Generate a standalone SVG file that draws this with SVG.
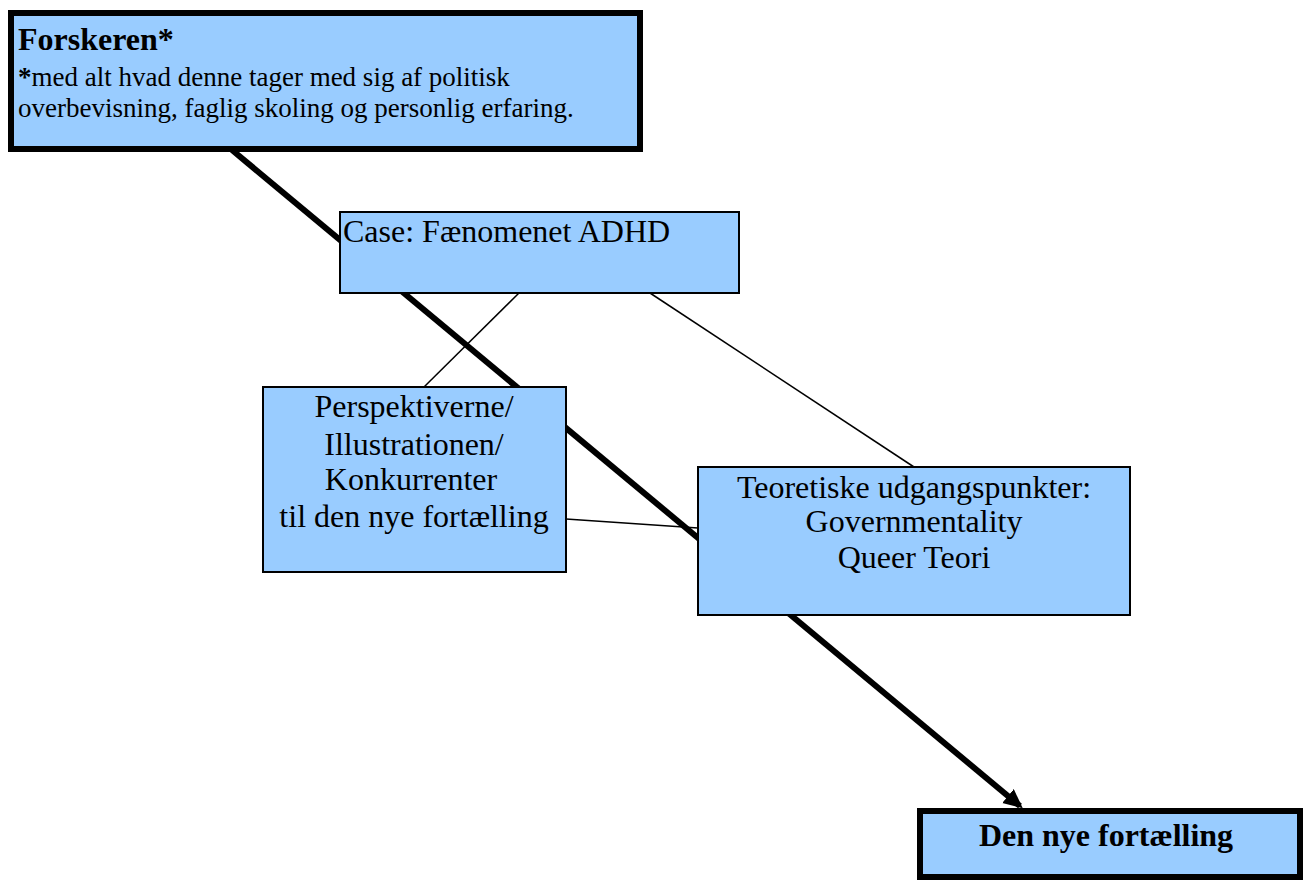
<svg xmlns="http://www.w3.org/2000/svg" width="1303" height="880" viewBox="0 0 1303 880">
<style>
.box{fill:#99ccff;stroke:#000}
.thin{stroke-width:2}
.thick{stroke-width:6}
text{font-family:"Liberation Serif","Times New Roman",serif;fill:#000}
.t{font-size:32px}
.c{text-anchor:middle}
.b{font-weight:bold}
.conn{stroke:#000;fill:none}
</style>
<defs>
<marker id="arr" markerWidth="4" markerHeight="4" refX="2.6" refY="1.5" orient="auto" markerUnits="strokeWidth">
<path d="M0,0 L3.2,1.5 L0,3 Z" fill="#000"/>
</marker>
</defs>
<rect width="1303" height="880" fill="#fff"/>
<g id="connectors">
<line class="conn" x1="232" y1="150" x2="1020" y2="806" stroke-width="6" marker-end="url(#arr)"/>
<line class="conn" x1="519" y1="293" x2="424" y2="387" stroke-width="1.5"/>
<line class="conn" x1="650" y1="293" x2="914" y2="467" stroke-width="1.5"/>
<line class="conn" x1="566" y1="519" x2="698" y2="528" stroke-width="1.5"/>
</g>
<g id="forskeren">
<rect class="box thick" x="11" y="13" width="629" height="136"/>
<text x="18" y="50" class="b" font-size="32">Forskeren*</text>
<text x="18" y="86" font-size="27"><tspan font-weight="bold">*</tspan>med alt hvad denne tager med sig af politisk</text>
<text x="18" y="117" font-size="27">overbevisning, faglig skoling og personlig erfaring.</text>
</g>
<g id="case">
<rect class="box thin" x="340" y="212" width="399" height="81"/>
<text x="343" y="242" class="t">Case: Fænomenet ADHD</text>
</g>
<g id="perspektiverne">
<rect class="box thin" x="263" y="387" width="303" height="185"/>
<text x="414" y="417" class="t c">Perspektiverne/</text>
<text x="414" y="455" class="t c">Illustrationen/</text>
<text x="411" y="490" class="t c">Konkurrenter</text>
<text x="414" y="527" class="t c">til den nye fortælling</text>
</g>
<g id="teoretiske">
<rect class="box thin" x="698" y="467" width="432" height="148"/>
<text x="914" y="498" class="t c">Teoretiske udgangspunkter:</text>
<text x="914" y="532" class="t c">Governmentality</text>
<text x="914" y="568" class="t c">Queer Teori</text>
</g>
<g id="dennye">
<rect class="box thick" x="920" y="811" width="380" height="66"/>
<text x="1106" y="846" class="b c" font-size="32">Den nye fortælling</text>
</g>
</svg>
